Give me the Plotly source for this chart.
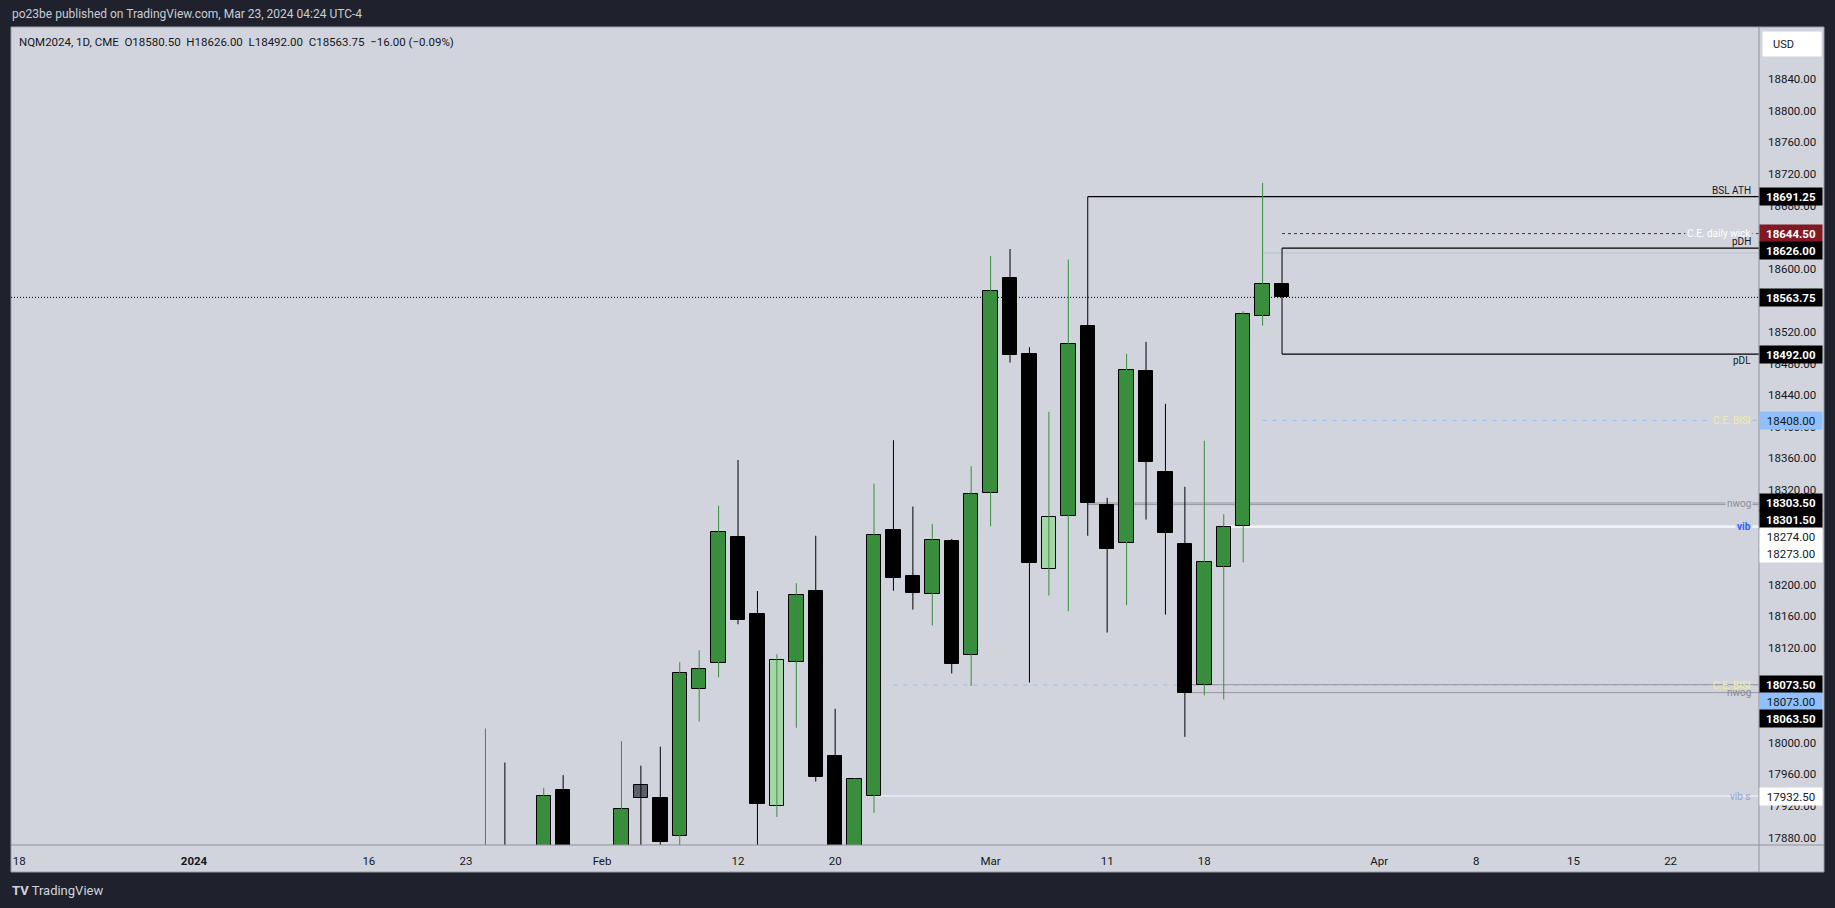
import plotly.graph_objects as go

# ---------------- data ----------------
# x positions are trading-day indices, 0 = 2023-12-18 (weekends / holidays removed)
x_tick_index = [0, 9, 18, 23, 30, 37, 42, 50, 56, 61, 70, 75, 80, 85]
x_tick_text = ["18", "<b>2024</b>", "16", "23", "Feb", "12", "20", "Mar", "11", "18", "Apr", "8", "15", "22"]

bar_index = list(range(24, 66))
bar_open = [17820, 17850, 17790, 17760, 17940, 17790, 17480, 17700, 17946, 17930,
            17882, 18068, 18101, 18260, 18163, 17920, 18102, 18192, 17983, 17865,
            17932.5, 18269, 18211, 18188, 18255.75, 18110.75, 18316, 18588, 18492.25, 18219.5,
            18287, 18527.5, 18301.5, 18253.5, 18471, 18343, 18252, 18073.5, 18222, 18274,
            18540, 18580.5]
bar_high = [18018, 17975, 17860, 17943, 17959, 17850, 17700, 18002, 17971, 17995,
            18102, 18117, 18300, 18358, 18192, 18112, 18202, 18262, 18043, 17955,
            18328, 18383, 18299, 18277, 18258, 18350, 18616.25, 18625, 18500.75, 18419,
            18611.5, 18691.25, 18310, 18492.25, 18507.5, 18429, 18324, 18382.25, 18289.25, 18546.25,
            18708.5, 18626]
bar_low = [17790, 17760, 17700, 17740, 17780, 17450, 17450, 17680, 17860, 17868,
           17865, 18027, 18083, 18150, 17860, 17906, 18019, 17951, 17840, 17850,
           17911.5, 18192.5, 18168.5, 18148.5, 18087.75, 18072, 18274, 18481.25, 18076.25, 18186.25,
           18166.5, 18262, 18139.5, 18174.25, 18282.5, 18162.25, 18007.5, 18060, 18054.75, 18228.25,
           18528, 18492]
bar_close = [17850, 17800, 17720, 17932, 17800, 17480, 17680, 17916, 17929.5, 17875,
             18088, 18093, 18267, 18156, 17923, 18104.5, 18187, 17957, 17860, 17954,
             18262.5, 18208, 18190, 18256.75, 18099.25, 18314.5, 18571.5, 18491.25, 18227, 18286,
             18505, 18303.5, 18244.75, 18471.5, 18356, 18266, 18063.5, 18229, 18273, 18542.25,
             18580.5, 18563.75]
bar_kind = ["g", "b", "b", "g", "b", "b", "g", "g", "gray", "b",
            "g", "g", "g", "b", "b", "lg", "g", "b", "b", "g",
            "g", "b", "b", "g", "b", "g", "g", "b", "b", "lg",
            "g", "b", "b", "g", "b", "b", "b", "g", "g", "g",
            "g", "b"]

last_price = 18563.75

level_names = ["BSL ATH", "C.E. daily wick", "wick", "pDH", "pDL", "C.E. BISI", "nwog", "nwog",
               "vib", "vib", "C.E. BISI", "nwog", "nwog", "vib s"]
level_prices = [18691.25, 18644.50, 18620.00, 18626.00, 18492.00, 18408.00, 18303.50, 18301.50,
                18274.00, 18273.00, 18073.00, 18073.50, 18063.50, 17932.50]
level_start = [55, 65, 64, 65, 65, 64, 55, 55, 62, 62, 45, 60, 60, 44]

label_text = ["BSL ATH", "C.E. daily wick", "pDH", "pDL", "C.E. BISI", "nwog", "vib", "nwog", "C.E. BISI", "vib s"]
label_price = [18691.25, 18644.50, 18626.00, 18492.00, 18408.00, 18302.50, 18274.00, 18063.50, 18073.00, 17932.50]
label_side = ["above", "on", "above", "below", "on", "on", "on", "on", "on", "on"]

tag_prices = [18691.25, 18644.50, 18626.00, 18563.75, 18492.00, 18408.00, 18303.50, 18301.50,
              18274.00, 18273.00, 18073.50, 18073.00, 18063.50, 17932.50]
tag_kind = ["black", "red", "black", "black", "black", "blue", "black", "black",
            "white", "white", "black", "blue", "black", "white"]

# price-scale ticks that are visible (the rest are fully covered by the price tags)
y_ticks = [17880, 17920, 17960, 18000, 18080, 18120, 18160, 18200, 18320, 18360, 18400,
           18440, 18480, 18520, 18600, 18680, 18720, 18760, 18800, 18840]

header_text = "po23be published on TradingView.com, Mar 23, 2024 04:24 UTC-4"
legend_text = "NQM2024, 1D, CME  O18580.50  H18626.00  L18492.00  C18563.75  \u221216.00 (\u22120.09%)"

# ---------------- styling ----------------
W, H = 1835, 908
PL, PR, PT, PB = 11, 1759, 27, 845
XR = [-0.42, 89.55]
YR = [17870.6, 18906.0]
BG = "#d1d4dc"
DARK = "#1f222d"
FONT = "Roboto"
TXT = "#131722"

body_color = {"g": "#388e3c", "b": "#000000", "lg": "#a5d6a7", "gray": "#5d606b"}
wick_color = {"g": "#388e3c", "b": "#000000", "lg": "#388e3c", "gray": "#000000"}

level_style = {
    "BSL ATH": dict(color="#000000", width=1.2, dash="solid"),
    "C.E. daily wick": dict(color="#801922", width=1, dash="dot"),
    "wick": dict(color="#b4c4d2", width=1, dash="solid"),
    "pDH": dict(color="#000000", width=1.2, dash="solid"),
    "pDL": dict(color="#000000", width=1.2, dash="solid"),
    "C.E. BISI": dict(color="#90bff9", width=1, dash="4px,6px"),
    "nwog": dict(color="#9598a1", width=1, dash="solid"),
    "vib": dict(color="#f0f2f6", width=2, dash="solid"),
    "vib s": dict(color="#eceef3", width=1.5, dash="solid"),
}
label_color = {"BSL ATH": TXT, "C.E. daily wick": "#ffffff", "pDH": TXT, "pDL": TXT,
               "C.E. BISI": "#f3eca6", "nwog": "#8a8d96", "vib": "#2962ff", "vib s": "#8fa5dc"}
tag_bg = {"black": "#000000", "red": "#801922", "blue": "#90bff9", "white": "#ffffff"}
tag_fg = {"black": "#ffffff", "red": "#ffffff", "blue": TXT, "white": TXT}


def fx(px):
    return (px - PL) / (PR - PL)


def fy(py):
    return (PB - py) / (PB - PT)


fig = go.Figure()

# wicks
for grp in ["g", "b"]:
    xs, ys = [], []
    for i, h, l, k in zip(bar_index, bar_high, bar_low, bar_kind):
        if wick_color[k] == wick_color[grp]:
            xs += [i, i, None]
            ys += [l, h, None]
    fig.add_trace(go.Scatter(x=xs, y=ys, mode="lines", line=dict(color=wick_color[grp], width=1),
                             hoverinfo="skip", showlegend=False))

# bodies
fig.add_trace(go.Bar(
    x=bar_index,
    y=[abs(c - o) for o, c in zip(bar_open, bar_close)],
    base=[min(o, c) for o, c in zip(bar_open, bar_close)],
    width=0.74,
    marker=dict(color=[body_color[k] for k in bar_kind], line=dict(color="#000000", width=1)),
    showlegend=False, hoverinfo="skip"))

shapes = []
# pane background and frame
shapes.append(dict(type="rect", xref="paper", yref="paper", x0=fx(PL), x1=fx(1824), y0=fy(872), y1=fy(PT),
                   fillcolor=BG, line=dict(color="#9a9da6", width=1), layer="below"))
# axis separators
shapes.append(dict(type="line", xref="paper", yref="paper", x0=fx(PR), x1=fx(PR), y0=fy(872), y1=fy(PT),
                   line=dict(color="#8f929b", width=1)))
shapes.append(dict(type="line", xref="paper", yref="paper", x0=fx(PL), x1=fx(1824), y0=fy(PB), y1=fy(PB),
                   line=dict(color="#8f929b", width=1)))
# USD box
shapes.append(dict(type="rect", xref="paper", yref="paper", x0=fx(1763), x1=fx(1821), y0=fy(56), y1=fy(32),
                   fillcolor="#ffffff", line=dict(color="#ffffff", width=1)))
# last price dotted line
shapes.append(dict(type="line", xref="x", yref="y", x0=XR[0], x1=XR[1], y0=last_price, y1=last_price,
                   line=dict(color="#000000", width=1, dash="1px,2px"), layer="below"))
# level lines
for n, p, s in zip(level_names, level_prices, level_start):
    shapes.append(dict(type="line", xref="x", yref="y", x0=s, x1=XR[1], y0=p, y1=p,
                       line=level_style[n], layer="below"))

ann = []
ann.append(dict(text=header_text, xref="paper", yref="paper", x=fx(10), y=fy(14), xanchor="left",
                yanchor="middle", showarrow=False, font=dict(family=FONT, size=12, color="#c9ccd4")))
ann.append(dict(text=legend_text, xref="paper", yref="paper", x=fx(17), y=fy(42), xanchor="left",
                yanchor="middle", showarrow=False, font=dict(family=FONT, size=11.5, color=TXT)))
ann.append(dict(text="USD", xref="paper", yref="paper", x=fx(1771), y=fy(44), xanchor="left",
                yanchor="middle", showarrow=False, font=dict(family=FONT, size=11, color=TXT)))
ann.append(dict(text="<b>TV</b> TradingView", xref="paper", yref="paper", x=fx(10), y=fy(890),
                xanchor="left", yanchor="middle", showarrow=False,
                font=dict(family=FONT, size=13, color="#d1d4dc")))

# labels on level lines
ppu = (PB - PT) / (YR[1] - YR[0])
for t, p, side in zip(label_text, label_price, label_side):
    a = dict(text=t, xref="paper", yref="y", x=1, y=p, xanchor="right", xshift=-6, showarrow=False,
             font=dict(family=FONT, size=10, color=label_color[t]))
    if t == "vib":
        a["text"] = "<b>vib</b>"
    if side == "above":
        a.update(yanchor="bottom", yshift=-1)
    elif side == "below":
        a.update(yanchor="top", yshift=1)
    else:
        a.update(yanchor="middle")
        if p > 18100:
            a.update(bgcolor=BG)
    ann.append(a)

# price tags on the axis (stacked so they do not overlap)
order = sorted(range(len(tag_prices)), key=lambda k: -tag_prices[k])
prev = -1e9
for k in order:
    p = tag_prices[k]
    ypix = (YR[1] - p) * ppu
    pos = max(ypix, prev + 17)
    prev = pos
    kind = tag_kind[k]
    txt = f"{p:.2f}"
    if tag_fg[kind] == "#ffffff":
        txt = f"<b>{txt}</b>"
    ann.append(dict(text=txt, xref="paper", yref="y", x=1, y=p, xanchor="left", yanchor="middle",
                    yshift=-(pos - ypix), showarrow=False, width=58, height=13, borderpad=2,
                    bgcolor=tag_bg[kind], align="center",
                    font=dict(family=FONT, size=11.5, color=tag_fg[kind])))

fig.update_layout(
    width=W, height=H,
    margin=dict(l=PL, r=W - PR, t=PT, b=H - PB, pad=0),
    paper_bgcolor=DARK, plot_bgcolor=BG,
    barmode="overlay", bargap=0,
    showlegend=False,
    shapes=shapes, annotations=ann,
    xaxis=dict(range=XR, tickmode="array", tickvals=x_tick_index, ticktext=x_tick_text,
               showgrid=False, zeroline=False, showline=False, ticks="", ticklabelstandoff=7,
               tickfont=dict(family=FONT, size=11.5, color=TXT), fixedrange=True),
    yaxis=dict(range=YR, side="right", tickmode="array", tickvals=y_ticks,
               ticktext=[f"{v:.2f}" for v in y_ticks], showgrid=False, zeroline=False,
               showline=False, ticks="", ticklabelstandoff=8,
               tickfont=dict(family=FONT, size=11.5, color=TXT), fixedrange=True),
)

fig.write_html("out.html", config={"displayModeBar": False},
               post_script="document.body.style.margin='0';document.body.style.overflow='hidden';")
